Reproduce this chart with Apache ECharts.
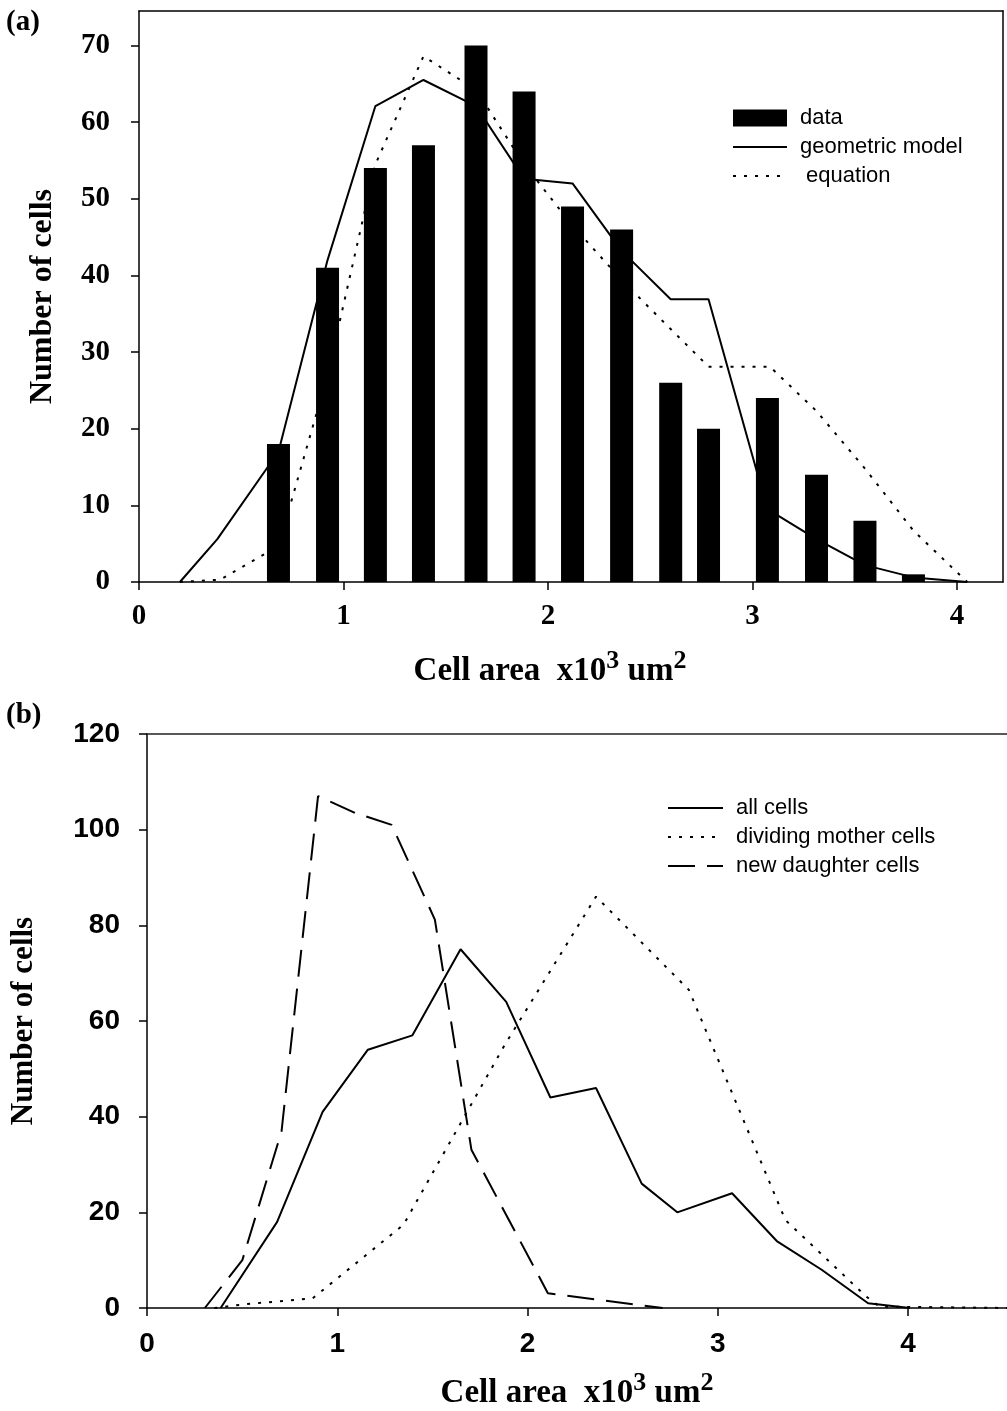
<!DOCTYPE html>
<html>
<head>
<meta charset="utf-8">
<script src="https://cdn.jsdelivr.net/npm/echarts@6/dist/echarts.min.js"></script>
<style>
  html, body { margin: 0; background: #fff; }
  #chart { width: 1007px; height: 1411px; }
</style>
</head>
<body>
<div id="chart"></div>
<script>
// ---- panel (a): measured histogram + two model curves ----
const barX = [0.682, 0.922, 1.156, 1.391, 1.648, 1.883, 2.12, 2.36, 2.60, 2.785, 3.073, 3.313, 3.55, 3.787];
const barCounts = [18, 41, 54, 57, 70, 64, 49, 46, 26, 20, 24, 14, 8, 1];

const geomX = [0.2, 0.383, 0.682, 0.922, 1.156, 1.391, 1.648, 1.883, 2.12, 2.36, 2.60, 2.785, 3.073, 3.313, 3.55, 3.787, 4.05];
const geomY = [0, 5.6, 17, 42, 62.1, 65.5, 62.1, 52.6, 52, 43.2, 36.9, 36.9, 9.5, 5.6, 2.2, 0.6, 0];

const eqX = [0.2, 0.396, 0.682, 0.922, 1.156, 1.391, 1.648, 1.883, 2.12, 2.36, 2.60, 2.785, 3.085, 3.313, 3.55, 3.787, 4.05];
const eqY = [0, 0.3, 4.7, 27, 54.5, 68.6, 64.2, 54.5, 46.5, 39.4, 33, 28.1, 28.1, 22.3, 14.8, 6.7, 0];

// ---- panel (b): all / mother / daughter cell distributions ----
const allX = [0.387, 0.684, 0.923, 1.161, 1.395, 1.648, 1.888, 2.12, 2.36, 2.60, 2.787, 3.075, 3.31, 3.546, 3.79, 4.01];
const allY = [0, 18, 41, 54, 57, 75, 64, 44, 46, 26, 20, 24, 14, 8, 1, 0];

const motherX = [0.354, 0.52, 0.87, 1.348, 1.88, 2.36, 2.848, 3.355, 3.78, 3.85, 4.52];
const motherY = [0, 0.8, 2, 17.4, 55, 86, 66.5, 18.4, 2.4, 0.3, 0];

const daughterX = [0.304, 0.501, 0.707, 0.899, 1.094, 1.286, 1.513, 1.705, 2.107, 2.71];
const daughterY = [0, 10, 36.9, 107, 103.5, 101, 81.2, 33.1, 3.1, 0];

const xTicks = [0, 1, 2, 3, 4];
const yTicksA = [0, 10, 20, 30, 40, 50, 60, 70];
const yTicksB = [0, 20, 40, 60, 80, 100, 120];

const serif = '"Liberation Serif", "Times New Roman", serif';
const sans = '"Liberation Sans", Arial, sans-serif';
const ink = '#000';

const pairs = (xs, ys) => xs.map((x, i) => [x, ys[i]]);

const axisLine = { onZero: false, lineStyle: { color: ink, width: 1.5 } };
const tickStyle = { color: ink, width: 1.5 };

// plain line along a grid edge (frame)
function edgeAxis(gridIndex, position, min, max) {
  return {
    type: 'value', gridIndex, position, min, max,
    axisLine: axisLine,
    axisTick: { show: false }, axisLabel: { show: false }, splitLine: { show: false }
  };
}

// legend entry for a line: hide the marker dot, keep the stroke
const lineEntry = name => ({ name, itemStyle: { opacity: 0 } });

// x axis title, superscripts as rich tokens lifted with bottom padding
const areaName = '{t|Cell area  x10}{s|3}{t| um}{s|2}';
const areaRich = {
  t: { fontFamily: serif, fontWeight: 'bold', fontSize: 33, color: ink },
  s: { fontFamily: serif, fontWeight: 'bold', fontSize: 26, color: ink, padding: [0, 0, 20, 0] }
};

const option = {
  animation: false,
  backgroundColor: '#fff',
  color: [ink],
  grid: [
    { left: 139, top: 11, width: 864, height: 571 },
    { left: 144, top: 734, width: 863, height: 574 }
  ],
  xAxis: [
    {
      type: 'value', gridIndex: 0, min: 0, max: 4.225, interval: 1,
      axisLine: axisLine,
      axisTick: { length: 8, customValues: xTicks, lineStyle: tickStyle },
      axisLabel: { customValues: xTicks, margin: 20, color: ink, fontFamily: serif, fontWeight: 'bold', fontSize: 29 },
      splitLine: { show: false },
      name: areaName, nameLocation: 'middle', nameGap: 66,
      nameTextStyle: { padding: [0, 42, 0, 0], rich: areaRich }
    },
    edgeAxis(0, 'top', 0, 4.225),
    {
      type: 'value', gridIndex: 1, min: 0, max: 4.52, interval: 1,
      axisLine: axisLine,
      axisTick: { length: 8, customValues: xTicks, lineStyle: tickStyle },
      axisLabel: { customValues: xTicks, margin: 22, color: ink, fontFamily: sans, fontWeight: 'bold', fontSize: 28 },
      splitLine: { show: false },
      name: areaName, nameLocation: 'middle', nameGap: 62,
      nameTextStyle: { rich: areaRich }
    },
    {
      type: 'value', gridIndex: 1, position: 'top', min: 0, max: 4.52,
      axisLine: { onZero: false, lineStyle: { color: '#222', width: 1.5 } },
      axisTick: { show: false }, axisLabel: { show: false }, splitLine: { show: false }
    }
  ],
  yAxis: [
    {
      type: 'value', gridIndex: 0, min: 0, max: 74.5, interval: 10,
      axisLine: axisLine,
      axisTick: { show: true, length: 8, customValues: yTicksA, lineStyle: tickStyle },
      axisLabel: { customValues: yTicksA, margin: 29, color: ink, fontFamily: serif, fontWeight: 'bold', fontSize: 29 },
      splitLine: { show: false },
      name: 'Number of cells', nameLocation: 'middle', nameGap: 80,
      nameTextStyle: { color: ink, fontFamily: serif, fontWeight: 'bold', fontSize: 32 }
    },
    edgeAxis(0, 'right', 0, 74.5),
    {
      type: 'value', gridIndex: 1, min: 0, max: 120, interval: 20,
      axisLine: axisLine,
      axisTick: { show: true, length: 8, customValues: yTicksB, lineStyle: tickStyle },
      axisLabel: { customValues: yTicksB, margin: 27, color: ink, fontFamily: sans, fontWeight: 'bold', fontSize: 28 },
      splitLine: { show: false },
      name: 'Number of cells', nameLocation: 'middle', nameGap: 108,
      nameTextStyle: { color: ink, fontFamily: serif, fontWeight: 'bold', fontSize: 31 }
    }
  ],
  legend: [
    {
      left: 732, top: 107, orient: 'vertical', padding: 0,
      itemWidth: 54, itemHeight: 17, itemGap: 7, selectedMode: false,
      data: [{ name: 'data', icon: 'rect' }, lineEntry('geometric model'), lineEntry(' equation')],
      textStyle: { color: ink, fontFamily: sans, fontSize: 22, padding: [0, 0, 0, 8] }
    },
    {
      left: 667, top: 797, orient: 'vertical', padding: 0,
      itemWidth: 55, itemHeight: 17, itemGap: 7, selectedMode: false,
      data: [lineEntry('all cells'), lineEntry('dividing mother cells'), lineEntry('new daughter cells')],
      textStyle: { color: ink, fontFamily: sans, fontSize: 22, padding: [0, 0, 0, 8] }
    }
  ],
  graphic: [
    { type: 'text', left: 6, top: 8, style: { text: '(a)', fill: ink, font: 'bold 29px ' + serif } },
    { type: 'text', left: 6, top: 701, style: { text: '(b)', fill: ink, font: 'bold 29px ' + serif } }
  ],
  series: [
    {
      name: 'data', type: 'bar', xAxisIndex: 0, yAxisIndex: 0,
      data: pairs(barX, barCounts), barWidth: 23, z: 3,
      itemStyle: { color: ink }, silent: true
    },
    {
      name: 'geometric model', type: 'line', xAxisIndex: 0, yAxisIndex: 0,
      data: pairs(geomX, geomY), symbol: 'none', z: 2, silent: true,
      itemStyle: { color: ink }, lineStyle: { color: ink, width: 2 }
    },
    {
      name: ' equation', type: 'line', xAxisIndex: 0, yAxisIndex: 0,
      data: pairs(eqX, eqY), symbol: 'none', z: 2, silent: true,
      itemStyle: { color: ink }, lineStyle: { color: ink, width: 2, type: [3, 8] }
    },
    {
      name: 'all cells', type: 'line', xAxisIndex: 2, yAxisIndex: 2,
      data: pairs(allX, allY), symbol: 'none', silent: true,
      itemStyle: { color: ink }, lineStyle: { color: ink, width: 2 }
    },
    {
      name: 'dividing mother cells', type: 'line', xAxisIndex: 2, yAxisIndex: 2,
      data: pairs(motherX, motherY), symbol: 'none', silent: true,
      itemStyle: { color: ink }, lineStyle: { color: ink, width: 2, type: [3, 8] }
    },
    {
      name: 'new daughter cells', type: 'line', xAxisIndex: 2, yAxisIndex: 2,
      data: pairs(daughterX, daughterY), symbol: 'none', silent: true,
      itemStyle: { color: ink }, lineStyle: { color: ink, width: 2, type: [27, 12] }
    }
  ]
};

const chart = echarts.init(document.getElementById('chart'), null, { renderer: 'canvas' });
chart.setOption(option);
</script>
</body>
</html>
